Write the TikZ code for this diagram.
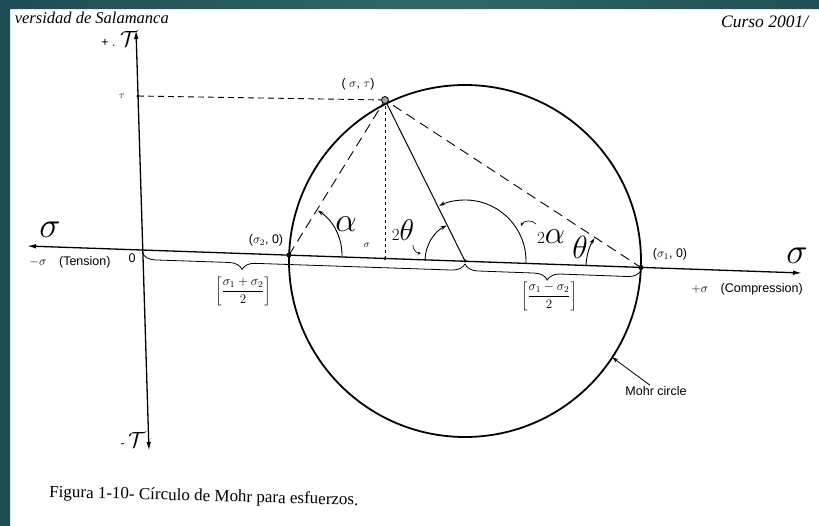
\documentclass[tikz,border=0pt]{standalone}
\usepackage{fix-cm}
\usepackage{amsmath}
\usepackage{fontspec}
\setmainfont{Liberation Sans}
\newfontfamily\scanserif{Liberation Serif}
\usetikzlibrary{positioning, arrows.meta, decorations.pathreplacing}

\definecolor{frameteal}{RGB}{29,76,84}
\definecolor{frametealmid}{RGB}{46,104,102}

\begin{document}
\begin{tikzpicture}[
        x=1pt, y=-1pt,
        every node/.style={font=\fontsize{12.5}{14}\selectfont, inner sep=1pt},
        axisline/.style={line width=1.3pt, {Latex[length=9pt, width=4.5pt]}-{Latex[length=9pt, width=4.5pt]}},
        mohrline/.style={line width=1.8pt},
        rline/.style={line width=1pt},
        longdash/.style={line width=0.9pt, dash pattern=on 10pt off 6pt},
        tickdash/.style={line width=0.9pt, dash pattern=on 6pt off 4pt},
        finedash/.style={line width=0.9pt, dash pattern=on 3pt off 3pt},
        angarc/.style={line width=0.9pt, -{Stealth[length=6pt, width=4pt]}},
        hookarrow/.style={line width=0.6pt, -{Stealth[length=3.5pt, width=3pt]}},
        pointer/.style={line width=0.8pt, -{Stealth[length=6pt, width=4pt]}},
        dot/.style={circle, fill, inner sep=0pt, minimum size=5pt},
        smalldot/.style={circle, fill, inner sep=0pt, minimum size=3.5pt},
        pdot/.style={circle, draw, line width=0.8pt, fill=gray!70, inner sep=0pt, minimum size=7pt},
        bigsym/.style={font=\fontsize{36}{36}\selectfont},
        anglab/.style={font=\fontsize{32}{32}\selectfont},
        fraclab/.style={font=\fontsize{13}{15}\selectfont},
        brace/.style={decorate, decoration={brace, mirror, amplitude=13pt}, line width=0.8pt},
    ]
        \useasboundingbox (0,0) rectangle (819,525);
        \fill[white] (0,0) rectangle (819,525);

        % Points
        \coordinate (O) at (142.5,250);
        \coordinate (tauTop) at (136,30);
        \coordinate (tauBot) at (149,451);
        \coordinate (sigL) at (27,246);
        \coordinate (sigR) at (802,273);
        \coordinate (A) at (289,255);
        \coordinate (B) at (641,267.5);
        \coordinate (C) at (465,261);
        \coordinate (S) at (385,258.5);
        \coordinate (T) at (138,96);
        \coordinate (P) at (385,100);
        \path (C) ++(33.2:176) coordinate (M);

        % Axes and circle
        \draw[axisline] (sigL) -- (sigR);
        \draw[axisline] (tauTop) -- (tauBot);
        \draw[mohrline] (C) circle[radius=176];

        % Lines
        \draw[tickdash] (T) -- (P);
        \draw[finedash] (P) -- (S);
        \draw[longdash] (A) -- (P) -- (B);
        \draw[rline] (P) -- (C);

        % Angles
        \draw[angarc] (A) ++(2:53) arc[start angle=2, end angle=-57, radius=53];
        \draw[angarc] (C) ++(182:40) arc[start angle=182, end angle=242.5, radius=40];
        \draw[angarc] (C) ++(2:61) arc[start angle=2, end angle=-115, radius=61];
        \draw[angarc] (B) ++(182:55) arc[start angle=182, end angle=212, radius=55];
        \draw[hookarrow] (413,245) to[bend right=50] (421,253);
        \draw[hookarrow] (536,224) to[bend right=60] (521,226);

        % Braces
        \draw[brace, decoration={aspect=0.31}] ([yshift=-3pt]O) -- ([yshift=-3pt]C);
        \draw[brace, decoration={aspect=0.47}] ([yshift=-3pt]C) -- ([yshift=-3pt]B);

        % Dots
        \node[dot] (Adot) at (A) {};
        \node[dot] (Bdot) at (B) {};
        \node[smalldot] (Cdot) at (C) {};
        \node[smalldot] (Sdot) at (S) {};
        \node[smalldot] (Tdot) at (T) {};
        \node[pdot] (Pdot) at (P) {};

        % Labels
        \node (Plab) at (358,84) {( $\sigma$, $\tau$)};
        \node (Alab) at (266,240) {($\sigma_2$, 0)};
        \node (Blab) at (670,254) {($\sigma_1$, 0)};
        \node (zerolab) at (132,258) {0};
        \node (slab) [font=\fontsize{10}{11}\selectfont] at (367,245) {$\sigma$};
        \node (taulab) [font=\fontsize{10}{11}\selectfont] at (122,96) {$\tau$};
        \node (tenslab) at (70,262) {$-\sigma$\quad(Tension)};
        \node (complab) at (747,289) {$+\sigma$\quad(Compression)};
        \node (tautoplab) [anchor=east] at (139,39) {+ . {\fontsize{22}{22}\selectfont$\mathcal{T}$}};
        \node (taubotlab) [anchor=east] at (147,440) {- {\fontsize{22}{22}\selectfont$\mathcal{T}$}};
        \node[bigsym] (sigLlab) at (50,230) {$\sigma$};
        \node[bigsym] (sigRlab) at (797,256) {$\sigma$};
        \node[font=\fontsize{34}{34}\selectfont] (alab) at (346,224) {$\alpha$};
        \node (twothlab) at (403,230) {\fontsize{17}{17}\selectfont$2$\fontsize{30}{30}\selectfont$\theta$};
        \node (twoalab) at (551,237) {\fontsize{17}{17}\selectfont$2$\fontsize{32}{32}\selectfont$\alpha$};
        \node[anglab] (thlab) at (580,247) {$\theta$};
        \node[fraclab] (sumlab) at (243,291) {$\left[\dfrac{\sigma_1+\sigma_2}{2}\right]$};
        \node[fraclab] (diflab) at (549,296) {$\left[\dfrac{\sigma_1-\sigma_2}{2}\right]$};
        \node (mohrlab) at (656,391) {Mohr circle};
        \draw[pointer] ([xshift=-6pt]mohrlab.north) -- (M);

        % Page text
        \node[anchor=base east, font=\scanserif\itshape\fontsize{16.5}{16.5}\selectfont] (unilab) at (170,23) {versidad de Salamanca};
        \node[anchor=base west, font=\scanserif\itshape\fontsize{17.5}{17.5}\selectfont] (cursolab) at (720,27) {Curso 2001/};
        \node[anchor=base west, rotate=-1.5, font=\scanserif\fontsize{17}{17}\selectfont] (caption) at (48,497) {Figura 1-10- Círculo de Mohr para esfuerzos.};

        % Frame
        \shade[even odd rule, left color=frameteal, right color=frameteal, middle color=frametealmid]
            (0,0) rectangle (850,560) (10,9) rectangle (860,570);
    \end{tikzpicture}
\end{document}
